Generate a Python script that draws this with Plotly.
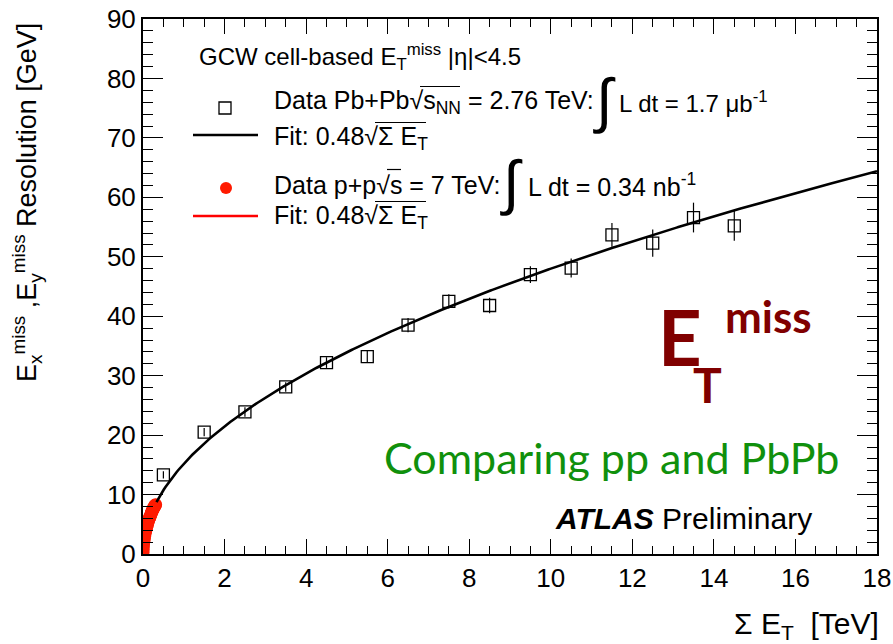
import numpy as np
import plotly.graph_objects as go

# ---------------- data ----------------
# Pb+Pb data points: Sum E_T [TeV] vs resolution [GeV]
pb_sumet = [0.5, 1.5, 2.5, 3.5, 4.5, 5.5, 6.5, 7.5, 8.5, 9.5, 10.5, 11.5, 12.5, 13.5, 14.5]
pb_res = [13.3, 20.5, 23.9, 28.1, 32.2, 33.2, 38.5, 42.5, 41.8, 47.0, 48.1, 53.7, 52.3, 56.6, 55.2]
pb_err = [0.6, 0.7, 0.8, 0.8, 0.9, 1.0, 1.2, 1.2, 1.3, 1.4, 1.6, 2.0, 2.3, 2.5, 2.5]

# p+p data points (dense band at low Sum E_T)
pp_sumet = [0.0, 0.003, 0.006, 0.01, 0.015, 0.02, 0.025, 0.03, 0.04, 0.05, 0.06, 0.07,
            0.08, 0.09, 0.10, 0.11, 0.12, 0.13, 0.14, 0.15, 0.16, 0.17, 0.18, 0.19,
            0.20, 0.21, 0.22, 0.23, 0.24, 0.25, 0.26, 0.27, 0.28, 0.29, 0.30, 0.31]
pp_res = [0.3, 0.8, 1.2, 1.5, 1.9, 2.1, 2.4, 2.6, 3.0, 3.4, 3.7, 4.0,
          4.3, 4.5, 4.8, 5.0, 5.3, 5.5, 5.7, 5.9, 6.1, 6.2, 6.4, 6.6,
          6.8, 7.0, 7.1, 7.3, 7.4, 7.6, 7.7, 7.9, 8.0, 8.1, 8.2, 8.3]

# fit: sigma = 0.48 * sqrt(Sum E_T [GeV])
FIT_COEFF = 0.48
pb_fit_range = [0.33, 18.0]
pp_fit_range = [0.0, 0.33]

x_ticks = [0, 2, 4, 6, 8, 10, 12, 14, 16, 18]
y_ticks = [0, 10, 20, 30, 40, 50, 60, 70, 80, 90]

# ---------------- figure ----------------
W, H = 893, 644
L, R, T, B = 143, 16, 19, 90
PW, PH = W - L - R, H - T - B


def px(x):
    return (x - L) / PW


def py(y):
    return (H - B - y) / PH


fig = go.Figure()

xf = np.linspace(pb_fit_range[0], pb_fit_range[1], 400)
xr = np.linspace(pp_fit_range[0], pp_fit_range[1], 50)

fig.add_trace(go.Scatter(x=xr, y=FIT_COEFF * np.sqrt(xr * 1000.0), mode="lines",
                         line=dict(color="red", width=2.5), hoverinfo="skip"))
fig.add_trace(go.Scatter(x=pp_sumet, y=pp_res, mode="markers",
                         marker=dict(color="#ff1a00", size=13, line=dict(width=0))))
fig.add_trace(go.Scatter(x=xf, y=FIT_COEFF * np.sqrt(xf * 1000.0), mode="lines",
                         line=dict(color="black", width=2.6), hoverinfo="skip"))
fig.add_trace(go.Scatter(x=pb_sumet, y=pb_res, mode="markers",
                         error_y=dict(type="data", array=pb_err, color="black",
                                      thickness=1.2, width=0),
                         marker=dict(symbol="square-open", size=12, color="black",
                                     line=dict(width=1.3))))

axis_common = dict(showline=True, linewidth=2, linecolor="black", mirror="allticks",
                   showgrid=False, zeroline=False, ticks="inside", tickcolor="black",
                   automargin=False,
                   tickwidth=1.3, tickfont=dict(size=26, color="black",
                                                family="Liberation Sans"))
fig.update_xaxes(range=[0, 18], tickvals=x_ticks, ticklen=15,
                 minor=dict(ticks="inside", dtick=0.5, tick0=0, ticklen=8,
                            tickcolor="black", tickwidth=1.1, showgrid=False),
                 **axis_common)
fig.update_yaxes(range=[0, 90], tickvals=y_ticks, ticklen=20,
                 minor=dict(ticks="inside", dtick=2, tick0=0, ticklen=10,
                            tickcolor="black", tickwidth=1.1, showgrid=False),
                 **axis_common)

ann = []
FONT = "Liberation Sans"


def text(x, y, s, size, color="black", family=FONT, xanchor="left", yanchor="middle",
         angle=0):
    ann.append(dict(x=px(x), y=py(y), xref="paper", yref="paper", text=s,
                    showarrow=False, xanchor=xanchor, yanchor=yanchor, textangle=angle,
                    font=dict(size=size, color=color, family=family)))


LEG = 25
INT = 60
text(197, 57, "GCW cell-based E<sub>T</sub><sup>miss</sup> |η|&lt;4.5", 24)
text(272, 102, "Data Pb+Pb√s<sub>NN</sub> = 2.76 TeV:", LEG)
text(604, 100, "∫", INT, xanchor="center")
text(617, 102, "L dt = 1.7 μb<sup>-1</sup>", 24)
text(272, 138, "Fit: 0.48√Σ E<sub>T</sub>", LEG)
text(272, 185, "Data p+p√s = 7 TeV:", LEG)
text(511, 182, "∫", INT, xanchor="center")
text(526, 185, "L dt = 0.34 nb<sup>-1</sup>", LEG)
text(272, 217, "Fit: 0.48√Σ E<sub>T</sub>", LEG)

# big labels
text(656, 336, "<b>E</b>", 76, color="#800000", family="Lato")
text(691, 384, "<b>T</b>", 48, color="#800000", family="Lato")
text(723, 316, "<b>miss</b>", 44, color="#800000", family="Lato")
text(382, 457, "Comparing pp and PbPb", 43, color="#10900c", family="Lato")
text(553, 518, "<b><i>ATLAS</i></b> Preliminary", 30)

# axis titles
text(881, 625, "Σ E<sub>T</sub>&nbsp; [TeV]", 30, xanchor="right")
text(27, 203, "E<sub>x</sub><sup>miss</sup> ,E<sub>y</sub><sup>miss</sup> Resolution [GeV]",
     27, xanchor="center", yanchor="middle", angle=-90)

shapes = []


def seg(x0, y0, x1, y1, color, width):
    shapes.append(dict(type="line", xref="paper", yref="paper", x0=px(x0), y0=py(y0),
                       x1=px(x1), y1=py(y1), line=dict(color=color, width=width)))


# legend symbols
shapes.append(dict(type="rect", xref="paper", yref="paper", x0=px(219), y0=py(114),
                   x1=px(231), y1=py(102), line=dict(color="black", width=1.3)))
seg(193, 135, 258, 135, "black", 2.6)
shapes.append(dict(type="circle", xref="paper", yref="paper", x0=px(220), y0=py(194),
                   x1=px(232), y1=py(182), fillcolor="#ff1a00", line=dict(width=0)))
seg(193, 216, 258, 216, "red", 2.6)
# square-root overlines
seg(420, 86.5, 460, 86.5, "black", 1.2)
seg(375, 122.5, 426, 122.5, "black", 1.2)
seg(387, 169.5, 401, 169.5, "black", 1.2)
seg(375, 201.5, 426, 201.5, "black", 1.2)

fig.update_layout(width=W, height=H, margin=dict(l=L, r=R, t=T, b=B),
                  plot_bgcolor="white", paper_bgcolor="white", showlegend=False,
                  font=dict(family=FONT, color="black"), annotations=ann, shapes=shapes)

fig.write_html("out.html")
